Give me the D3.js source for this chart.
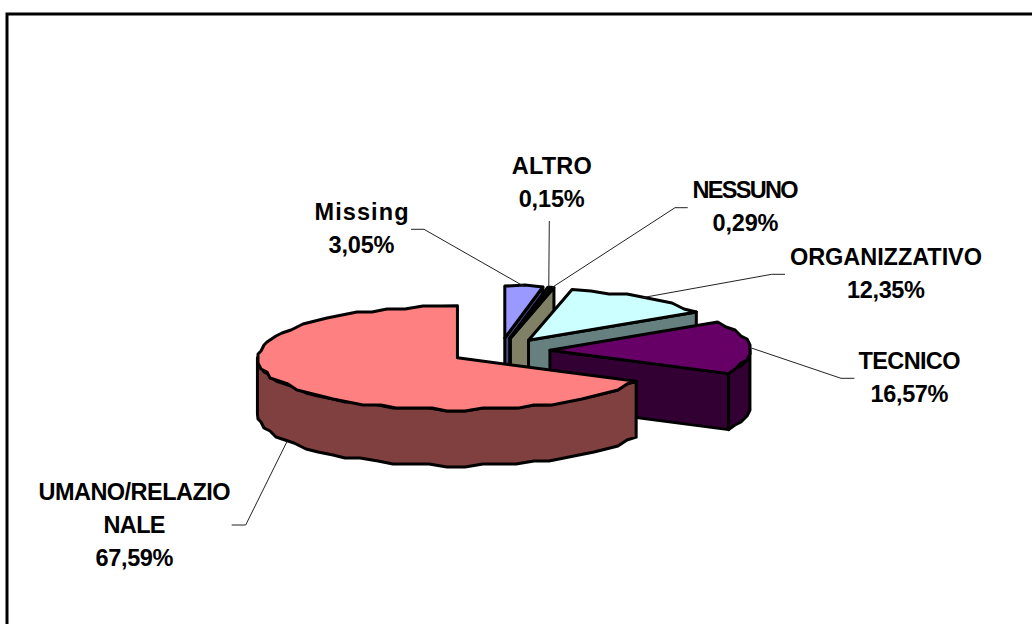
<!DOCTYPE html>
<html><head><meta charset="utf-8">
<script src="https://cdn.jsdelivr.net/npm/d3@7"></script>
<style>html,body{margin:0;padding:0;background:#fff}svg{display:block}</style>
</head><body><div id="c"></div>
<script>
// data
const categories = ["Missing","ALTRO","NESSUNO","ORGANIZZATIVO","TECNICO","UMANO/RELAZIONALE"];
const values = [3.05,0.15,0.29,12.35,16.57,67.59];
const labelLines = [["Missing"],["ALTRO"],["NESSUNO"],["ORGANIZZATIVO"],["TECNICO"],["UMANO/RELAZIO","NALE"]];
const topColors = ["#9999FF","#993366","#FFFFCC","#CCFFFF","#660066","#FF8080"];
const sideColors = ["#4C4C80","#4C1933","#808066","#668080","#330033","#804040"];

// layout
const W=1032,H=624;
const cx=500,cy=351,rx=200,ry=52,depth=56,explode=0.25,grid=3;
const labelCenter=[361.5,551.7,745.5,886,909.5,134.5];
const labelBase=[220,174,198,265,369,500];
const lineTextW=[[94],[80],[106],[192],[102],[192,62]];
const pctW=[66,66,66,78,78,78];
const lineStep=33;
const elbows=[
 [[424,229.3],[411,229.3]],
 [[549.3,221]],
 [[675,207.7],[687.7,207.7]],
 [[771.7,274.3],[785,274.3]],
 [[841,378.3],[854.3,378.3]],
 [[245.7,525],[231.7,525]]
];

const svg=d3.select("#c").append("svg").attr("width",W).attr("height",H)
 .style("font-family","'Liberation Sans',Arial,sans-serif");

svg.append("path").attr("d",d3.line()([[7,624],[7,14],[W,14]]))
 .attr("fill","none").attr("stroke","#000").attr("stroke-width",3);

const arcs=d3.pie().sort(null).startAngle(0).endAngle(2*Math.PI).value(d=>d)(values);
const px=d3.scaleLinear().domain([-1,1]).range([-rx,rx]);
const py=d3.scaleLinear().domain([-1,1]).range([ry,-ry]);
const pt=(c,a)=>[c[0]+px(Math.sin(a)),c[1]+py(Math.cos(a))];
const snap=p=>[Math.round(p[0]/grid)*grid,Math.round(p[1]/grid)*grid];
const line=d3.line();
const drop=p=>[p[0],p[1]+depth];
const STEP=Math.PI/36;
function arcPts(c,a,b){
  const out=[pt(c,a)];
  const n=Math.max(1,Math.floor((b-a)/STEP));
  for(let i=1;i<n;i++) out.push(snap(pt(c,a+(b-a)*i/n)));
  out.push(pt(c,b));
  return out;
}
const centers=arcs.map(d=>{
  const m=(d.startAngle+d.endAngle)/2;
  return [cx+explode*px(Math.sin(m)),cy+explode*py(Math.cos(m))];
});

const pieG=svg.append("g").attr("stroke","#000").attr("stroke-width",3).attr("stroke-linejoin","round");
arcs.forEach((d,i)=>{
  const c=centers[i],a=d.startAngle,b=d.endAngle,g=pieG.append("g");
  const side=sideColors[i];
  const wall=pts=>g.append("path").attr("d",line(pts.concat(pts.slice().reverse().map(drop)))+"Z").attr("fill",side);
  if(Math.sin(a)<-1e-6) wall([c,pt(c,a)]);
  if(Math.sin(b)>1e-6) wall([c,pt(c,b)]);
  const s=Math.max(a,Math.PI/2),e=Math.min(b,3*Math.PI/2);
  if(e>s) wall(arcPts(c,s,e));
  g.append("path").attr("d",line([c].concat(arcPts(c,a,b)))+"Z").attr("fill",topColors[i]);
});

// leader lines
const leaders=svg.append("g").attr("fill","none").attr("stroke","#222").attr("stroke-width",1);
arcs.forEach((d,i)=>{
  const m=(d.startAngle+d.endAngle)/2;
  let p=pt(centers[i],m);
  if(Math.cos(m)<-0.1) p=drop(p);
  leaders.append("path").attr("d",line([p].concat(elbows[i])));
});

// labels
const fmt=d3.format(".2f");
const lab=svg.append("g").attr("font-size",23.5).attr("font-weight","bold").attr("fill","#000").attr("text-anchor","middle");
arcs.forEach((d,i)=>{
  const ls=labelLines[i].map((t,j)=>[t,lineTextW[i][j]]).concat([[fmt(values[i]).replace(".",",")+"%",pctW[i]]]);
  ls.forEach((l,j)=>{
    lab.append("text").attr("x",labelCenter[i]).attr("y",labelBase[i]+j*lineStep)
      .attr("textLength",l[1]).attr("lengthAdjust","spacing").text(l[0]);
  });
});
</script></body></html>
